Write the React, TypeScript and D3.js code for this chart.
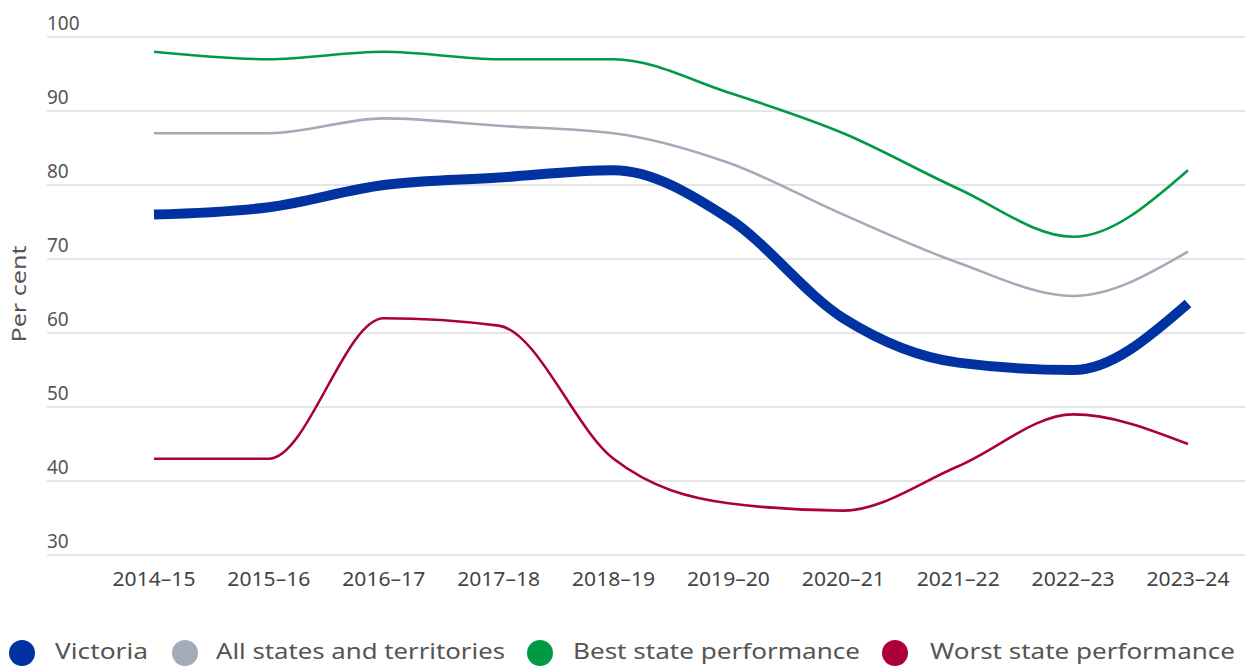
import React from "react";
import * as d3 from "d3";

const categories = ["2014–15","2015–16","2016–17","2017–18","2018–19","2019–20","2020–21","2021–22","2022–23","2023–24"];
const victoria = [76, 77, 80, 81, 82, 75.5, 62, 56, 55, 64];
const allStates = [87, 87, 89, 88, 87, 83, 76, 69.5, 65, 71];
const best = [98, 97, 98, 97, 97, 92.5, 87, 79.5, 73, 82];
const worst = [43, 43, 62, 61, 43, 37, 36, 42, 49, 45];
const yTicks = [30, 40, 50, 60, 70, 80, 90, 100];

const series = [
  { name: "Victoria", values: victoria, color: "#0033a1", width: 10 },
  { name: "All states and territories", values: allStates, color: "#a3aab8", width: 2.6 },
  { name: "Best state performance", values: best, color: "#009a44", width: 2.6 },
  { name: "Worst state performance", values: worst, color: "#ad0038", width: 2.6 },
];

const font = "'Noto Sans', 'Open Sans', sans-serif";

export default function App() {
  const W = 1253, H = 666;
  const x = d3.scalePoint<string>().domain(categories).range([154, 1188]);
  const y = d3.scaleLinear().domain([30, 100]).range([555, 37]);
  const line = (vals: number[]) =>
    d3.line<number>().x((_, i) => x(categories[i])!).y((d) => y(d)).curve(d3.curveMonotoneX)(vals) || "";
  const order = [1, 2, 3, 0];
  const legendPos = [
    { cx: 22, tx: 55, w: 93 },
    { cx: 185, tx: 216, w: 289 },
    { cx: 540, tx: 573, w: 287 },
    { cx: 895, tx: 930, w: 305 },
  ];
  return (
    <svg width={W} height={H} style={{ position: "absolute", left: 0, top: 0, background: "#fff" }} fontFamily={font}>
      {yTicks.map((t) => (
        <g key={t}>
          <line x1={47} x2={1245} y1={y(t)} y2={y(t)} stroke="#dcdcdc" strokeWidth={1.5} />
          <text x={47} y={y(t) - 7} fontSize={19} fill="#555">{t}</text>
        </g>
      ))}
      {categories.map((c) => (
        <text key={c} x={x(c)} y={586} fontSize={19} fill="#444" textAnchor="middle" textLength={83} lengthAdjust="spacingAndGlyphs">{c}</text>
      ))}
      <text transform="translate(26,294) rotate(-90)" fontSize={20} fill="#555" textAnchor="middle" textLength={97} lengthAdjust="spacingAndGlyphs">Per cent</text>
      {order.map((i) => (
        <path key={series[i].name} d={line(series[i].values)} fill="none" stroke={series[i].color} strokeWidth={series[i].width} />
      ))}
      {series.map((s, i) => (
        <g key={s.name}>
          <circle cx={legendPos[i].cx} cy={653} r={13} fill={s.color} />
          <text x={legendPos[i].tx} y={659} fontSize={21} fill="#555" textLength={legendPos[i].w} lengthAdjust="spacingAndGlyphs">{s.name}</text>
        </g>
      ))}
    </svg>
  );
}
